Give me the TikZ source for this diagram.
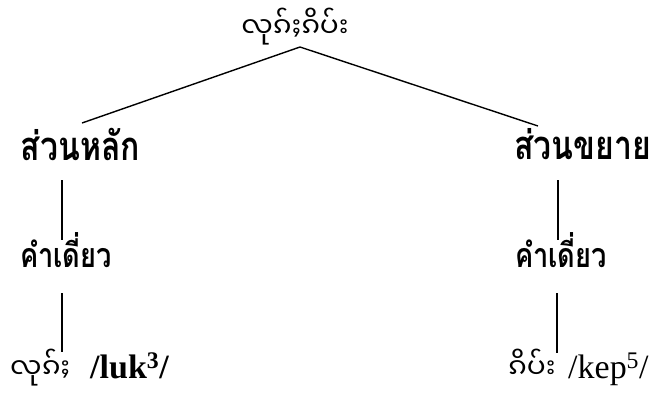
\documentclass[tikz,border=0pt]{standalone}
\usepackage{fontspec}
\setmainfont{Liberation Serif}
\newfontfamily\thaifont[Script=Thai,FakeStretch=0.8]{Loma}
\newfontfamily\shanfont[Script=Myanmar]{Noto Sans Myanmar UI}
\begin{document}
\begin{tikzpicture}[
		x=1pt, y=-1pt,
		head/.style={inner sep=0pt, anchor=base, font=\thaifont\bfseries\fontsize{40}{42}\selectfont},
		thai/.style={inner sep=0pt, anchor=base, font=\thaifont\bfseries\fontsize{34}{36}\selectfont},
		shan/.style={inner sep=0pt, font=\shanfont\fontsize{28}{30}\selectfont},
		ipa/.style={inner sep=0pt, anchor=base west, font=\fontsize{34}{36}\selectfont},
		edge/.style={line width=1.4pt}
	]
		\useasboundingbox (0,0) rectangle (656,397);
		\node[shan, anchor=base] (root) at (295,37) {လုၵ်ႈၵိပ်း};
		\node[head] (headL) at (80.5,160) {ส่วนหลัก};
		\node[head] (headR) at (582.5,159) {ส่วนขยาย};
		\node[thai] (wordL) at (66,267) {คำเดี่ยว};
		\node[thai] (wordR) at (561,267) {คำเดี่ยว};
		\node[shan, anchor=base west] (leafL) at (10,378) {လုၵ်ႈ};
		\node[ipa] (ipaL) at (90,378) {\bfseries /luk\textsuperscript{3}/};
		\node[shan, anchor=base west] (leafR) at (508,378) {ၵိပ်း};
		\node[ipa] (ipaR) at (568,378) {/kep\textsuperscript{5}/};
		% stem ends
		\coordinate (stemL) at ([xshift=-4pt,yshift=-26pt]wordL.base);
		\coordinate (stemR) at ([xshift=-4pt,yshift=-26pt]wordR.base);
		\coordinate (tipL) at ([yshift=26pt]leafL.base);
		\coordinate (tipR) at ([yshift=25pt]leafR.base);
		% branches
		\draw[edge] ([xshift=5pt,yshift=-10pt]root.base) -- ([xshift=1.5pt,yshift=37pt]headL.base);
		\draw[edge] ([xshift=5pt,yshift=-10pt]root.base) -- ([xshift=-44.5pt,yshift=33pt]headR.base);
		\draw[edge] ([xshift=-18.5pt,yshift=-20pt]headL.base) -- ([xshift=-4pt,yshift=27pt]wordL.base);
		\draw[edge] ([xshift=-24.5pt,yshift=-21pt]headR.base) -- ([xshift=-3pt,yshift=27pt]wordR.base);
		\draw[edge] (stemL) -- (stemL |- tipL);
		\draw[edge] (stemR) -- (stemR |- tipR);
	\end{tikzpicture}
\end{document}
